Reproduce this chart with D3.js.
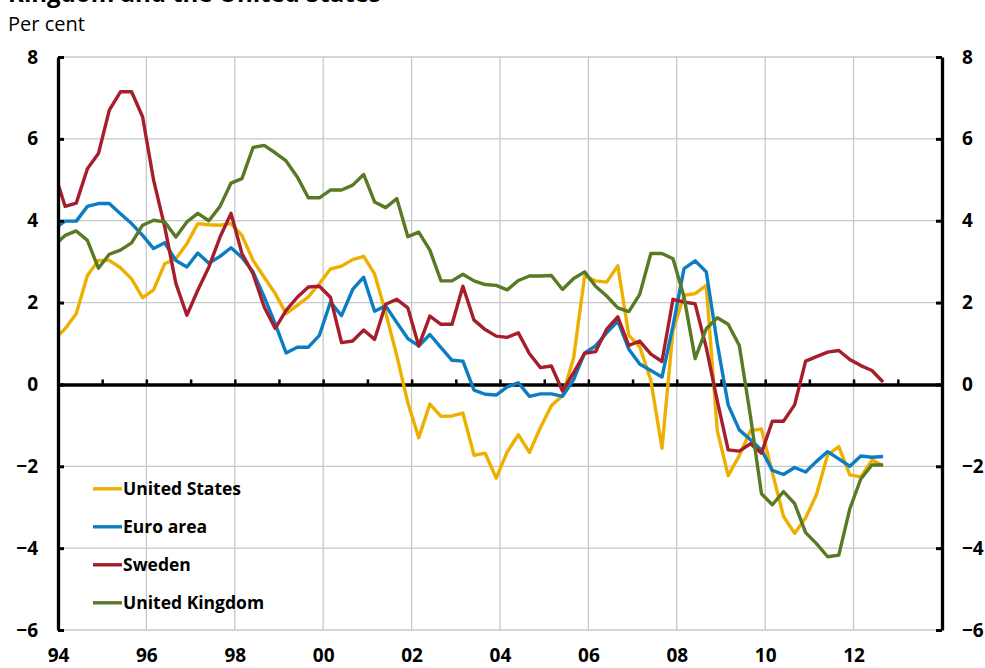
<!DOCTYPE html>
<html>
<head>
<meta charset="utf-8">
<script src="https://cdnjs.cloudflare.com/ajax/libs/d3/7.8.5/d3.min.js"></script>
<style>
body{margin:0;background:#fff;}
text{font-family:"Open Sans",sans-serif;}
</style>
</head>
<body>
<div id="chart-area"></div>
<script>
// quarterly data, Dec 1993 .. Sep 2012 (first point sits just left of the axis)
const firstMonth=new Date(1993,11,1);

const seriesNames=["United States","Euro area","Sweden","United Kingdom"];

const usData=[1.1,1.36,1.73,2.66,3.03,3.03,2.85,2.58,2.12,2.31,2.95,3.07,3.44,3.93,3.90,3.89,3.93,3.64,3.03,2.62,
    2.22,1.73,1.93,2.14,2.46,2.82,2.89,3.05,3.13,2.70,1.75,0.70,-0.45,-1.30,-0.48,-0.78,-0.77,-0.70,-1.73,-1.68,
    -2.29,-1.65,-1.23,-1.66,-1.05,-0.52,-0.27,0.65,2.65,2.53,2.50,2.90,1.20,0.92,0.10,-1.56,1.32,2.18,2.22,2.42,
    -1.13,-2.23,-1.74,-1.13,-1.09,-2.15,-3.22,-3.64,-3.26,-2.69,-1.72,-1.52,-2.21,-2.26,-1.85,-1.98];

const euroData=[3.8,3.99,3.99,4.35,4.42,4.42,4.17,3.93,3.64,3.32,3.46,3.03,2.87,3.21,2.96,3.13,3.34,3.10,2.75,2.14,
    1.48,0.77,0.91,0.91,1.20,2.01,1.68,2.32,2.62,1.79,1.92,1.51,1.12,0.94,1.22,0.90,0.59,0.57,-0.14,-0.24,
    -0.26,-0.06,0.04,-0.29,-0.23,-0.23,-0.29,0.12,0.77,0.94,1.26,1.55,0.86,0.50,0.34,0.18,1.43,2.83,3.02,2.75,
    1.0,-0.5,-1.11,-1.35,-1.6,-2.1,-2.2,-2.03,-2.14,-1.88,-1.64,-1.82,-2.0,-1.75,-1.78,-1.76];

const swedenData=[5.2,4.35,4.43,5.27,5.64,6.70,7.15,7.15,6.54,4.99,3.85,2.47,1.69,2.3,2.87,3.6,4.18,3.2,2.7,1.89,
    1.37,1.81,2.13,2.38,2.40,2.13,1.02,1.06,1.33,1.10,1.96,2.08,1.87,0.94,1.67,1.47,1.47,2.40,1.57,1.34,
    1.18,1.15,1.26,0.75,0.41,0.45,-0.16,0.29,0.76,0.80,1.35,1.65,0.95,1.06,0.74,0.56,2.08,2.01,1.97,0.9,
    -0.4,-1.6,-1.63,-1.45,-1.68,-0.9,-0.9,-0.5,0.57,0.68,0.79,0.83,0.61,0.46,0.34,0.06];

const ukData=[3.4,3.64,3.75,3.52,2.84,3.18,3.28,3.46,3.89,4.01,3.97,3.60,3.97,4.18,4.00,4.35,4.92,5.03,5.79,5.84,
    5.66,5.46,5.07,4.56,4.56,4.75,4.75,4.87,5.13,4.46,4.32,4.54,3.61,3.72,3.28,2.53,2.53,2.69,2.53,2.44,
    2.42,2.31,2.54,2.65,2.65,2.66,2.32,2.59,2.75,2.40,2.16,1.87,1.78,2.2,3.2,3.2,3.07,2.14,0.63,1.36,
    1.63,1.47,0.95,-0.77,-2.67,-2.94,-2.62,-2.91,-3.62,-3.89,-4.21,-4.17,-3.04,-2.31,-1.97,-1.97];

const yTicks=[-6,-4,-2,0,2,4,6,8];
const xLabelYears=[1994,1996,1998,2000,2002,2004,2006,2008,2010,2012];

const lineColors=["#EEB000","#0B7DC2","#A61E2B","#587A25"];

LineChart=function(_parentElement){
    this.parentElement=_parentElement;
    this.initVis();
};

LineChart.prototype.initVis=function(){
    let vis=this;

    vis.margin={left:58, right:43, top:57, bottom:38};
    vis.width=985-vis.margin.left-vis.margin.right;
    vis.height=668-vis.margin.top-vis.margin.bottom;

    vis.svg=d3.select(vis.parentElement).append("svg")
        .attr("width",985)
        .attr("height",668);

    // title is cut off at the top of the picture
    vis.svg.append("text")
        .attr("x",8).attr("y",2)
        .attr("font-size","24px").attr("font-weight","bold")
        .text("Kingdom and the United States");
    vis.svg.append("text")
        .attr("x",8).attr("y",31)
        .attr("font-size","20px")
        .text("Per cent");

    vis.g=vis.svg.append("g")
        .attr("transform","translate("+vis.margin.left+","+vis.margin.top+")");

    vis.x=d3.scaleTime()
        .domain([new Date(1994,0,1),new Date(2014,0,1)])
        .range([0,vis.width]);
    vis.y=d3.scaleLinear()
        .domain([-6,8])
        .range([vis.height,0]);

    vis.wrangleData();
};

LineChart.prototype.wrangleData=function(){
    let vis=this;
    let all=[usData,euroData,swedenData,ukData];
    vis.series=all.map(function(vals,i){
        return {
            name:seriesNames[i],
            color:lineColors[i],
            values:vals.map(function(v,j){
                return {date:d3.timeMonth.offset(firstMonth,3*j),value:v};
            })
        };
    });
    vis.updateVis();
};

LineChart.prototype.updateVis=function(){
    let vis=this;

    //----Grid-----------------------
    vis.g.append("g").selectAll("line.hgrid")
        .data(yTicks.filter(function(d){return d!==0;}))
        .enter().append("line")
        .attr("x1",0).attr("x2",vis.width)
        .attr("y1",function(d){return vis.y(d);})
        .attr("y2",function(d){return vis.y(d);})
        .attr("stroke","#c8c8c8").attr("stroke-width",1.3);

    vis.g.append("g").selectAll("line.vgrid")
        .data(xLabelYears.slice(1))
        .enter().append("line")
        .attr("x1",function(d){return vis.x(new Date(d,0,1));})
        .attr("x2",function(d){return vis.x(new Date(d,0,1));})
        .attr("y1",0).attr("y2",vis.height)
        .attr("stroke","#c8c8c8").attr("stroke-width",1.3);

    //----Lines-----------------------
    vis.g.append("clipPath").attr("id","clip")
        .append("rect").attr("width",vis.width).attr("height",vis.height);

    let line=d3.line()
        .x(function(d){return vis.x(d.date);})
        .y(function(d){return vis.y(d.value);});

    //----Zero axis with year ticks-----
    vis.zeroAxis=vis.g.append("g")
        .attr("transform","translate(0,"+vis.y(0)+")")
        .call(d3.axisTop(vis.x)
            .ticks(d3.timeYear.every(1))
            .tickSizeInner(5).tickSizeOuter(0)
            .tickFormat(""));
    vis.zeroAxis.select(".domain").attr("stroke","#000").attr("stroke-width",3.6);
    vis.zeroAxis.selectAll(".tick line").attr("stroke","#000").attr("stroke-width",2.5);

    vis.g.append("g").attr("clip-path","url(#clip)")
        .selectAll("path.series")
        .data(vis.series)
        .enter().append("path")
        .attr("class","series")
        .attr("fill","none")
        .attr("stroke",function(d){return d.color;})
        .attr("stroke-width",3.4)
        .attr("stroke-linejoin","round")
        .attr("d",function(d){return line(d.values);});

    //----Y axes (left and right)------
    vis.yLeft=vis.g.append("g")
        .call(d3.axisLeft(vis.y).tickValues(yTicks)
            .tickSizeInner(-6).tickSizeOuter(0).tickPadding(20));
    vis.yRight=vis.g.append("g")
        .attr("transform","translate("+vis.width+",0)")
        .call(d3.axisRight(vis.y).tickValues(yTicks)
            .tickSizeInner(-6).tickSizeOuter(0).tickPadding(20));
    [vis.yLeft,vis.yRight].forEach(function(ax){
        ax.select(".domain").attr("stroke","#000").attr("stroke-width",3.3);
        ax.selectAll(".tick line").attr("stroke","#000").attr("stroke-width",3);
        ax.selectAll(".tick text")
            .attr("font-family","'Open Sans',sans-serif")
            .attr("font-size","19px").attr("font-weight","bold").attr("fill","#000");
    });

    //----X labels------------------
    vis.xAxis=vis.g.append("g")
        .attr("transform","translate(0,"+vis.height+")")
        .call(d3.axisBottom(vis.x)
            .tickValues(xLabelYears.map(function(d){return new Date(d,0,1);}))
            .tickSize(0).tickPadding(19)
            .tickFormat(d3.timeFormat("%y")));
    vis.xAxis.select(".domain").remove();
    vis.xAxis.selectAll(".tick text")
        .attr("font-family","'Open Sans',sans-serif")
        .attr("font-size","19px").attr("font-weight","bold").attr("fill","#000");

    //----Legend-------------------
    let legend=vis.g.append("g")
        .attr("transform","translate(35,"+(vis.y(-2.55))+")");
    let rows=legend.selectAll("g.row")
        .data(vis.series)
        .enter().append("g")
        .attr("transform",function(d,i){return "translate(0,"+(i*38)+")";});
    rows.append("line")
        .attr("x1",0).attr("x2",29)
        .attr("stroke",function(d){return d.color;})
        .attr("stroke-width",3.4);
    rows.append("text")
        .attr("x",30).attr("dy","0.36em")
        .attr("font-size","17.5px").attr("font-weight","bold")
        .text(function(d){return d.name;});
};

new LineChart("#chart-area");
</script>
</body>
</html>
